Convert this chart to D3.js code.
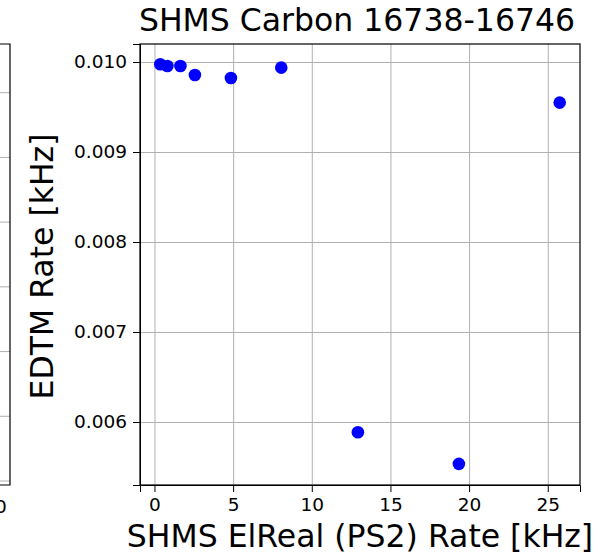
<!DOCTYPE html>
<html>
<head>
<meta charset="utf-8">
<script src="https://cdn.jsdelivr.net/npm/d3@7"></script>
<style>
  body { margin: 0; background: #fff; }
  svg { font-family: "DejaVu Sans", sans-serif; }
</style>
</head>
<body>
<div class="chart"></div>
<script>
// data
const rateKHz = [0.37, 0.82, 1.65, 2.57, 4.86, 8.06, 12.93, 19.35, 25.76];
const edtmKHz = [0.009975, 0.009956, 0.009956, 0.009856, 0.009823, 0.009937, 0.005886, 0.005535, 0.009549];
const xTicks = [0, 5, 10, 15, 20, 25];
const yTicks = [0.006, 0.007, 0.008, 0.009, 0.010];
// neighbouring panel that is cut off on the left edge
const leftGrid = [1, 2, 3, 4, 5, 6, 7];

const width = 603;
const height = 557;
const margin = {top: 44, right: 23, bottom: 72, left: 140};
const labelSize = 31.5;
const tickSize = 18.5;

const svg = d3.select(".chart")
  .append("svg")
  .attr("width", width)
  .attr("height", height);

// main scales (matplotlib adds 5% margin)
const x = d3.scaleLinear()
  .domain([-0.92, 27.05])
  .range([margin.left, width - margin.right]);

const y = d3.scaleLinear()
  .domain([0.0053, 0.0102])
  .range([height - margin.bottom, margin.top]);

// gridlines
svg.append("g")
  .attr("transform", `translate(0, ${height - margin.bottom})`)
  .call(d3.axisBottom(x).tickValues(xTicks).tickSize(-(height - margin.top - margin.bottom)).tickFormat(""))
  .call(g => g.select(".domain").remove())
  .call(g => g.selectAll("line").attr("stroke", "#b0b0b0").attr("stroke-width", 1));

svg.append("g")
  .attr("transform", `translate(${margin.left}, 0)`)
  .call(d3.axisLeft(y).tickValues(yTicks).tickSize(-(width - margin.left - margin.right)).tickFormat(""))
  .call(g => g.select(".domain").remove())
  .call(g => g.selectAll("line").attr("stroke", "#b0b0b0").attr("stroke-width", 1));

// points
svg.append("g")
  .attr("fill", "#0000ff")
  .selectAll("circle")
  .data(rateKHz)
  .join("circle")
  .attr("cx", d => x(d))
  .attr("cy", (d, i) => y(edtmKHz[i]))
  .attr("r", 6.3);

// axes
function xAxis(g) {
  g.attr("transform", `translate(0, ${height - margin.bottom})`)
    .call(d3.axisBottom(x).tickValues(xTicks).tickSize(7).tickPadding(6).tickFormat(d3.format("d")));
}
function yAxis(g) {
  g.attr("transform", `translate(${margin.left}, 0)`)
    .call(d3.axisLeft(y).tickValues(yTicks).tickSize(7).tickPadding(6).tickFormat(d3.format(".3f")));
}
svg.append("g").call(xAxis);
svg.append("g").call(yAxis);
svg.selectAll(".tick text").attr("font-size", tickSize).attr("fill", "#000").attr("font-family", "DejaVu Sans");

// frame
svg.append("rect")
  .attr("x", margin.left)
  .attr("y", margin.top)
  .attr("width", width - margin.left - margin.right)
  .attr("height", height - margin.top - margin.bottom)
  .attr("fill", "none")
  .attr("stroke", "#000")
  .attr("stroke-width", 1.2);

// title + labels
svg.append("text")
  .attr("x", (margin.left + width - margin.right) / 2 - 3)
  .attr("y", 31)
  .attr("text-anchor", "middle")
  .attr("font-size", labelSize)
  .text("SHMS Carbon 16738-16746");

svg.append("text")
  .attr("x", (margin.left + width - margin.right) / 2)
  .attr("y", 547)
  .attr("text-anchor", "middle")
  .attr("font-size", labelSize)
  .text("SHMS ElReal (PS2) Rate [kHz]");

svg.append("text")
  .attr("transform", `translate(53, ${(margin.top + height - margin.bottom) / 2 + 2}) rotate(-90)`)
  .attr("text-anchor", "middle")
  .attr("font-size", labelSize)
  .text("EDTM Rate [kHz]");

// left neighbour panel, only its right edge shows
const yL = d3.scaleLinear()
  .domain([1, 7])
  .range([481, 92.7]);

svg.append("g")
  .selectAll("line")
  .data(leftGrid)
  .join("line")
  .attr("x1", 0)
  .attr("x2", 10)
  .attr("y1", d => yL(d))
  .attr("y2", d => yL(d))
  .attr("stroke", "#b0b0b0");

svg.append("path")
  .attr("d", `M0,${margin.top}H10V${height - margin.bottom}H0`)
  .attr("fill", "none")
  .attr("stroke", "#000")
  .attr("stroke-width", 1.2);

svg.append("text")
  .attr("x", 1)
  .attr("y", 513)
  .attr("text-anchor", "middle")
  .attr("font-size", tickSize)
  .text("0");
</script>
</body>
</html>
